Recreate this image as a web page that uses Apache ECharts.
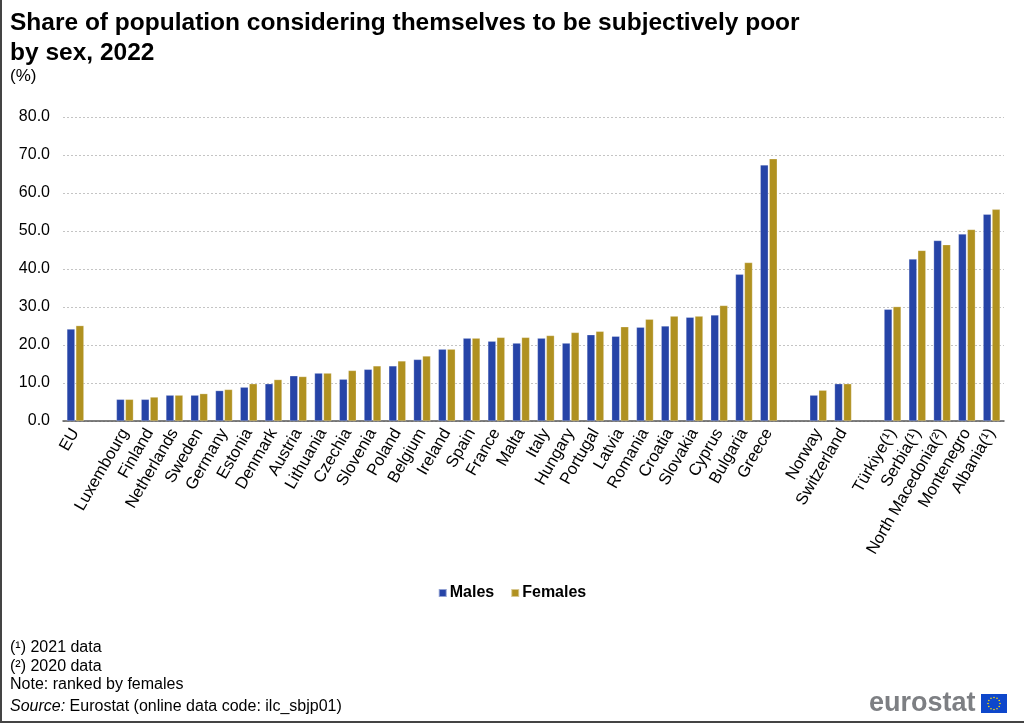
<!DOCTYPE html>
<html>
<head>
<meta charset="utf-8">
<script src="https://cdn.jsdelivr.net/npm/echarts@6/dist/echarts.min.js"></script>
<style>
  html, body { margin: 0; padding: 0; background: #fff; }
  #chart { width: 1024px; height: 723px; }
</style>
</head>
<body>
<div id="chart"></div>
<script>
// blanks ('', ' ', '  ') are the spacer slots between country groups
const countries = ['EU', '', 'Luxembourg', 'Finland', 'Netherlands', 'Sweden', 'Germany', 'Estonia', 'Denmark',
  'Austria', 'Lithuania', 'Czechia', 'Slovenia', 'Poland', 'Belgium', 'Ireland', 'Spain', 'France', 'Malta',
  'Italy', 'Hungary', 'Portugal', 'Latvia', 'Romania', 'Croatia', 'Slovakia', 'Cyprus', 'Bulgaria', 'Greece',
  ' ', 'Norway', 'Switzerland', '  ', 'Türkiye(¹)', 'Serbia(¹)', 'North Macedonia(²)', 'Montenegro', 'Albania(¹)'];

const males = [24.2, null, 5.7, 5.7, 6.8, 6.8, 8.0, 8.9, 9.8,
  11.9, 12.6, 11.0, 13.6, 14.5, 16.2, 18.9, 21.8, 21.0, 20.5,
  21.8, 20.5, 22.7, 22.3, 24.7, 25.0, 27.3, 27.9, 38.6, 67.4,
  null, 6.8, 9.8, null, 29.4, 42.6, 47.5, 49.2, 54.4];

const females = [25.1, null, 5.7, 6.3, 6.8, 7.2, 8.3, 9.8, 10.9,
  11.7, 12.6, 13.3, 14.5, 15.8, 17.1, 18.9, 21.8, 22.0, 22.0,
  22.5, 23.3, 23.6, 24.8, 26.8, 27.6, 27.6, 30.4, 41.7, 69.0,
  null, 8.1, 9.8, null, 30.1, 44.9, 46.4, 50.4, 55.7];

const yTicks = [0, 10, 20, 30, 40, 50, 60, 70, 80];

const footnotes = ['(¹) 2021 data', '(²) 2020 data', 'Note: ranked by females'];

const FONT = 'Liberation Sans, Arial, sans-serif';

const chart = echarts.init(document.getElementById('chart'));

// EU flag stars for the logo
const stars = [];
for (let i = 0; i < 12; i++) {
  const a = i * Math.PI / 6;
  stars.push({
    type: 'circle',
    shape: { cx: 994 + 6 * Math.cos(a), cy: 703.5 + 6 * Math.sin(a), r: 0.8 },
    style: { fill: '#FFDD00' }
  });
}

const option = {
  backgroundColor: '#fff',
  textStyle: { fontFamily: FONT },
  title: [
    {
      text: 'Share of population considering themselves to be subjectively poor\nby sex, 2022',
      left: 5, top: 3,
      textStyle: { fontSize: 24.5, fontWeight: 'bold', color: '#000', lineHeight: 30, fontFamily: FONT }
    },
    {
      text: '(%)',
      left: 5, top: 63,
      textStyle: { fontSize: 17, fontWeight: 'normal', color: '#000', fontFamily: FONT }
    }
  ],
  legend: {
    data: ['Males', 'Females'],
    left: 'center', top: 580,
    itemWidth: 8, itemHeight: 8, itemGap: 16,
    icon: 'rect',
    textStyle: { fontSize: 16, fontWeight: 'bold', color: '#000', padding: [0, 0, 0, -2] }
  },
  grid: { left: 63, right: 20, top: 117, bottom: 302, containLabel: false },
  xAxis: {
    type: 'category',
    data: countries,
    axisLine: { lineStyle: { color: '#555', width: 1.5 } },
    axisTick: { interval: 0, length: 6, lineStyle: { color: '#555' } },
    axisLabel: { interval: 0, rotate: 60, fontSize: 16.5, color: '#000', margin: 9 }
  },
  yAxis: {
    type: 'value',
    min: yTicks[0], max: yTicks[yTicks.length - 1], interval: 10,
    axisLine: { show: false },
    axisTick: { show: false },
    axisLabel: { fontSize: 16, color: '#000', margin: 13, formatter: v => v.toFixed(1) },
    splitLine: { lineStyle: { color: '#c4c4c4', type: [2, 2], width: 1 } }
  },
  series: [
    {
      name: 'Males', type: 'bar', data: males,
      barWidth: 8, barGap: '12%',
      itemStyle: { color: '#2644A7', borderColor: 'rgba(255,255,255,0.5)', borderWidth: 0.5 }
    },
    {
      name: 'Females', type: 'bar', data: females,
      barWidth: 8,
      itemStyle: { color: '#B09120', borderColor: 'rgba(255,255,255,0.5)', borderWidth: 0.5 }
    }
  ],
  graphic: [
    {
      type: 'polyline', shape: { points: [[1, 0], [1, 722], [1024, 722]] },
      style: { fill: null, stroke: '#444', lineWidth: 2 }, silent: true
    },
    ...footnotes.map((t, i) => ({
      type: 'text', left: 10, top: 640 + i * 18.5,
      style: { text: t, fontSize: 16, fill: '#000', fontFamily: FONT }
    })),
    {
      type: 'text', left: 10, top: 699,
      style: {
        text: '{i|Source:} Eurostat (online data code: ilc_sbjp01)',
        fontSize: 16, fill: '#000', fontFamily: FONT,
        rich: { i: { fontStyle: 'italic', fontSize: 16, fontFamily: FONT } }
      }
    },
    {
      type: 'text', left: 869, top: 690,
      style: { text: 'eurostat', fontSize: 27, fontWeight: 'bold', fill: '#7d7f83', fontFamily: FONT }
    },
    {
      type: 'rect', shape: { x: 981, y: 694, width: 26, height: 19 },
      style: { fill: '#0E47CB' }
    },
    ...stars
  ]
};

chart.setOption(option);
</script>
</body>
</html>
